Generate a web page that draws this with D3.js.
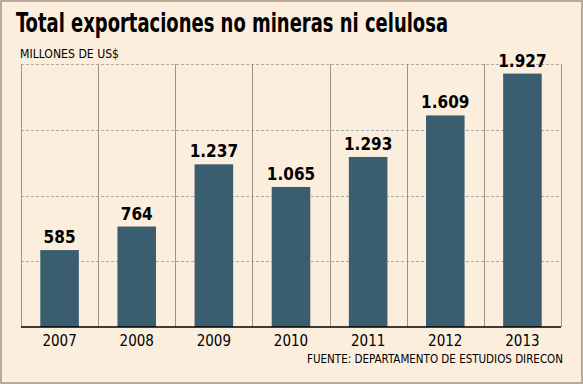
<!DOCTYPE html>
<html>
<head>
<meta charset="utf-8">
<script src="https://cdn.jsdelivr.net/npm/d3@7"></script>
<style>
  body { margin: 0; background: #fff; }
  text { font-family: "DejaVu Sans Condensed", "DejaVu Sans", sans-serif; }
</style>
</head>
<body>
<div id="chart"></div>
<script>
// data
const years = ["2007", "2008", "2009", "2010", "2011", "2012", "2013"];
const values = [585, 764, 1237, 1065, 1293, 1609, 1927];
const labels = ["585", "764", "1.237", "1.065", "1.293", "1.609", "1.927"];
const gridTicks = [500, 1000, 1500, 2000];

const width = 583;
const height = 384;
const margin = { top: 64, right: 22, bottom: 57, left: 21 };

const svg = d3.select("#chart")
  .append("svg")
  .attr("width", width)
  .attr("height", height);

// background + frame
svg.append("rect")
  .attr("x", 1).attr("y", 1)
  .attr("width", width - 2).attr("height", height - 2)
  .attr("fill", "#fbeedd")
  .attr("stroke", "#b9a99a")
  .attr("stroke-width", 2);

const x = d3.scaleBand()
  .domain(years)
  .range([margin.left, width - margin.right])
  .paddingInner(0.5)
  .paddingOuter(0.25);

const y = d3.scaleLinear()
  .domain([0, 2000])
  .range([height - margin.bottom, margin.top]);

// dashed horizontal grid
svg.append("g")
  .selectAll("line")
  .data(gridTicks)
  .enter()
  .append("line")
  .attr("x1", margin.left)
  .attr("x2", width - margin.right)
  .attr("y1", d => Math.round(y(d)) + 0.5)
  .attr("y2", d => Math.round(y(d)) + 0.5)
  .attr("stroke", "#aaa")
  .attr("stroke-dasharray", "3,2");

// vertical separators between years
const seps = d3.range(years.length + 1).map(i => margin.left + i * (width - margin.left - margin.right) / years.length);
svg.append("g")
  .selectAll("line")
  .data(seps)
  .enter()
  .append("line")
  .attr("x1", d => Math.round(d) + 0.5)
  .attr("x2", d => Math.round(d) + 0.5)
  .attr("y1", y(2000))
  .attr("y2", y(0))
  .attr("stroke", "#9a948c")
  .attr("stroke-width", 1);

// bars
svg.append("g")
  .selectAll("rect")
  .data(values)
  .enter()
  .append("rect")
  .attr("x", (d, i) => x(years[i]))
  .attr("y", d => y(d))
  .attr("width", x.bandwidth())
  .attr("height", d => y(0) - y(d))
  .attr("fill", "#3a5e6f");

// value labels
svg.append("g")
  .selectAll("text")
  .data(values)
  .enter()
  .append("text")
  .attr("x", (d, i) => x(years[i]) + x.bandwidth() / 2)
  .attr("y", d => y(d) - 7)
  .attr("text-anchor", "middle")
  .attr("font-size", 17)
  .attr("font-weight", "bold")
  .attr("fill", "#000")
  .text((d, i) => labels[i]);

// x axis
const xAxis = d3.axisBottom(x).tickSize(0).tickPadding(8);
const gx = svg.append("g")
  .attr("transform", `translate(0,${y(0)})`)
  .call(xAxis);
gx.select(".domain").attr("stroke", "#000").attr("stroke-width", 1.5)
  .attr("d", `M${margin.left},0H${width - margin.right}`);
gx.selectAll("text")
  .attr("font-size", 15)
  .attr("font-family", "\"DejaVu Sans Condensed\", \"DejaVu Sans\", sans-serif")
  .attr("fill", "#000");

// title
svg.append("text")
  .attr("x", 16)
  .attr("y", 32)
  .attr("font-size", 26)
  .attr("font-weight", "bold")
  .attr("textLength", 432)
  .attr("lengthAdjust", "spacingAndGlyphs")
  .text("Total exportaciones no mineras ni celulosa");

svg.append("text")
  .attr("x", 20)
  .attr("y", 58)
  .attr("font-size", 13)
  .attr("textLength", 99)
  .attr("lengthAdjust", "spacingAndGlyphs")
  .text("MILLONES DE US$");

svg.append("text")
  .attr("x", 563)
  .attr("y", 363)
  .attr("text-anchor", "end")
  .attr("font-size", 11.5)
  .text("FUENTE: DEPARTAMENTO DE ESTUDIOS DIRECON");
</script>
</body>
</html>
